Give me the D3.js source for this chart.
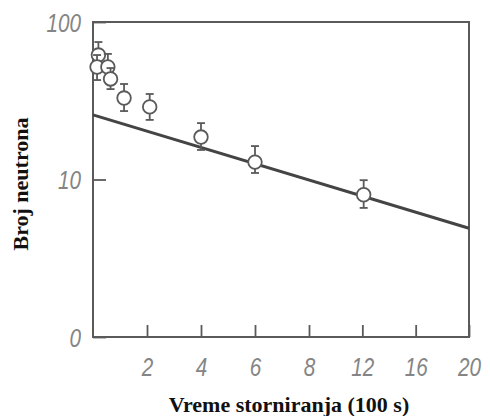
<!DOCTYPE html>
<html>
<head>
<meta charset="utf-8">
<script src="https://cdn.jsdelivr.net/npm/d3@7"></script>
<style>
  body { margin: 0; background: #fff; }
  svg { display: block; }
  .tick-label { font-family: "Liberation Sans", "DejaVu Sans", sans-serif; font-style: italic; fill: #858585; }
  .title { font-family: "Liberation Serif", "DejaVu Serif", serif; font-weight: bold; fill: #111; }
</style>
</head>
<body>
<svg id="chart" width="490" height="416"></svg>
<script>
// time (100 s) and neutron counts
var times = [0.2, 0.15, 0.55, 0.65, 1.15, 2.1, 4.0, 6.0, 12.1];
var counts = [61.7, 51.8, 51.8, 43.5, 32.9, 28.9, 18.6, 12.9, 8.0];
var errLow = [51.0, 42.8, 43.5, 37.5, 27.2, 23.9, 15.4, 11.0, 6.6];
var errHigh = [74.6, 61.7, 62.7, 51.0, 40.4, 34.9, 22.8, 16.3, 9.9];

// fitted decay line, end points
var fitTimes = [0, 20];
var fitCounts = [25.7, 4.9];

var xTicks = [2, 4, 6, 8, 12, 16, 20];
var yTicks = [1, 10, 100];
var yTickLabels = ['0', '10', '100'];

(function () {
  var svg = d3.select('#chart');
  var m = { left: 93, right: 469, top: 22, bottom: 337 };
  var ink = '#5a5a5a';

  // the time axis is compressed after 8
  var x = d3.scaleLinear().domain([0, 8, 20]).range([m.left, 309, m.right]);
  var y = d3.scaleLog().domain([1, 100]).range([m.bottom, m.top]);

  // narrow, tall digits like the original lettering
  function narrow(sel) {
    sel.attr('class', 'tick-label')
      .style('font-size', '25px')
      .attr('lengthAdjust', 'spacingAndGlyphs')
      .attr('textLength', function () { return this.textContent.length * 11.5; });
  }

  var xAxis = d3.axisBottom(x)
    .tickValues(xTicks)
    .tickSizeInner(-12)
    .tickSizeOuter(0)
    .tickFormat(d3.format('d'));

  var gx = svg.append('g')
    .attr('transform', 'translate(0,' + m.bottom + ')')
    .call(xAxis);
  gx.select('.domain').remove();
  gx.selectAll('.tick line').attr('stroke', ink).attr('stroke-width', 1.8);
  gx.selectAll('.tick text')
    .attr('y', 39)
    .attr('dy', null)
    .call(narrow);

  var yAxis = d3.axisLeft(y)
    .tickValues(yTicks)
    .tickSizeInner(-13)
    .tickSizeOuter(0)
    .tickFormat(function (d, i) { return yTickLabels[i]; });

  var gy = svg.append('g')
    .attr('transform', 'translate(' + m.left + ',0)')
    .call(yAxis);
  gy.select('.domain').remove();
  gy.selectAll('.tick line').attr('stroke', ink).attr('stroke-width', 1.8);
  gy.selectAll('.tick text')
    .attr('x', -12)
    .attr('dy', '0.36em')
    .call(narrow);

  // frame
  svg.append('rect')
    .attr('x', m.left)
    .attr('y', m.top)
    .attr('width', m.right - m.left)
    .attr('height', m.bottom - m.top)
    .attr('fill', 'none')
    .attr('stroke', ink)
    .attr('stroke-width', 2);

  // fit line
  var line = d3.line()
    .x(function (d) { return x(d[0]); })
    .y(function (d) { return y(d[1]); });

  svg.append('path')
    .datum(d3.zip(fitTimes, fitCounts))
    .attr('d', line)
    .attr('fill', 'none')
    .attr('stroke', '#444')
    .attr('stroke-width', 3);

  // measured points with error bars
  var pts = times.map(function (t, i) {
    return { t: t, v: counts[i], lo: errLow[i], hi: errHigh[i] };
  });

  var g = svg.append('g').selectAll('g')
    .data(pts)
    .enter().append('g')
    .attr('stroke', ink)
    .attr('stroke-width', 1.8)
    .attr('fill', 'none');

  g.append('line')
    .attr('x1', function (d) { return x(d.t); })
    .attr('x2', function (d) { return x(d.t); })
    .attr('y1', function (d) { return y(d.lo); })
    .attr('y2', function (d) { return y(d.hi); });

  ['lo', 'hi'].forEach(function (k) {
    g.append('line')
      .attr('x1', function (d) { return x(d.t) - 4; })
      .attr('x2', function (d) { return x(d.t) + 4; })
      .attr('y1', function (d) { return y(d[k]); })
      .attr('y2', function (d) { return y(d[k]); });
  });

  g.append('circle')
    .attr('cx', function (d) { return x(d.t); })
    .attr('cy', function (d) { return y(d.v); })
    .attr('r', 6.8)
    .attr('fill', '#fff');

  // axis titles
  svg.append('text')
    .attr('class', 'title')
    .attr('x', 289)
    .attr('y', 412)
    .attr('text-anchor', 'middle')
    .style('font-size', '22px')
    .text('Vreme storniranja (100 s)');

  svg.append('text')
    .attr('class', 'title')
    .attr('transform', 'translate(28,184) rotate(-90)')
    .attr('text-anchor', 'middle')
    .style('font-size', '22px')
    .text('Broj neutrona');
})();
</script>
</body>
</html>
